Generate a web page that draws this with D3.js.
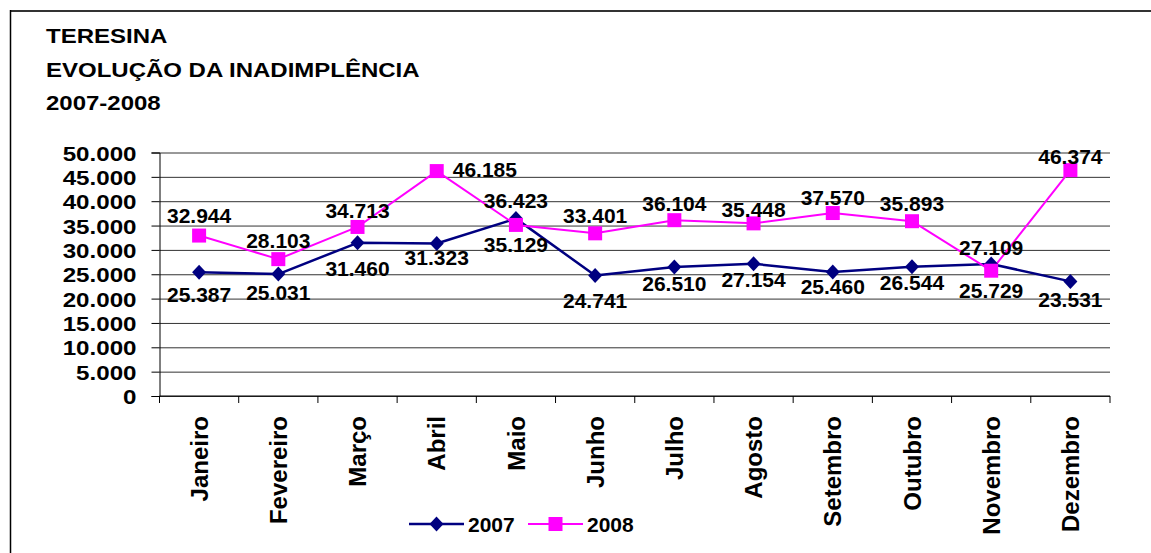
<!DOCTYPE html>
<html>
<head>
<meta charset="utf-8">
<script src="https://cdn.jsdelivr.net/npm/d3@7"></script>
<style>
  html, body { margin: 0; padding: 0; background: #fff; }
  svg { display: block; }
  text { font-family: "Liberation Sans", Arial, sans-serif; font-weight: bold; fill: #000; }
</style>
</head>
<body>
<svg width="1151" height="553"></svg>
<script>
// data
const months = ["Janeiro", "Fevereiro", "Março", "Abril", "Maio", "Junho",
                "Julho", "Agosto", "Setembro", "Outubro", "Novembro", "Dezembro"];
const values2007 = [25387, 25031, 31460, 31323, 36423, 24741, 26510, 27154, 25460, 26544, 27109, 23531];
const values2008 = [32944, 28103, 34713, 46185, 35129, 33401, 36104, 35448, 37570, 35893, 25729, 46374];
const seriesNames = ["2007", "2008"];
const yTicks = [0, 5000, 10000, 15000, 20000, 25000, 30000, 35000, 40000, 45000, 50000];
const titleLines = ["TERESINA", "EVOLUÇÃO DA INADIMPLÊNCIA", "2007-2008"];

// label placement (baseline offset from the marker, px)
const labelDy2007 = [30, 26, 33, 22, -11, 32, 24, 23, 22, 23, -9, 26];
const labelDy2008 = [-13, -11, -9, 6, 27, -10, -9, -6, -8, -10, 27, -6];

const svg = d3.select("svg"),
      margin = {top: 152.5, right: 41, bottom: 157, left: 159.5},
      width = 1151 - margin.left - margin.right,
      height = 553 - margin.top - margin.bottom;

const ptBR = d3.formatLocale({decimal: ",", thousands: ".", grouping: [3], currency: ["", ""]});
const fmt = ptBR.format(",");

// frame
svg.append("line").attr("x1", 10).attr("x2", 1151).attr("y1", 11).attr("y2", 11)
  .attr("stroke", "#333").attr("stroke-width", 2);
svg.append("line").attr("x1", 10.5).attr("x2", 10.5).attr("y1", 10).attr("y2", 553)
  .attr("stroke", "#000").attr("stroke-width", 1.5);

// title
svg.append("g").selectAll("text").data(titleLines).join("text")
  .attr("transform", (d, i) => `translate(46,${43 + i * 33.5}) scale(1.2,1)`)
  .style("font-size", "20px")
  .text(d => d);

const g = svg.append("g").attr("transform", `translate(${margin.left},${margin.top})`);

const x = d3.scaleBand().domain(months).range([0, width]).padding(0);
const y = d3.scaleLinear().domain([0, 50000]).range([height, 0]);

// gridlines
g.append("g")
  .call(d3.axisLeft(y).tickValues(yTicks).tickSize(-width).tickFormat(""))
  .call(a => a.select(".domain").remove())
  .selectAll("line").attr("stroke", "#333").attr("stroke-width", 1);

// y axis
g.append("g")
  .call(d3.axisLeft(y).tickValues(yTicks).tickSize(8).tickPadding(12).tickFormat(fmt))
  .call(a => a.selectAll("line, path").attr("stroke", "#000"))
  .call(a => a.selectAll("text").style("font-size", "21px")
    .attr("transform", "scale(1.15,1)").attr("dy", "0.36em"));

// x axis baseline and ticks at category edges
g.append("line").attr("x1", 0).attr("x2", width).attr("y1", height).attr("y2", height)
  .attr("stroke", "#000");
g.append("g").selectAll("line").data(months.concat([null])).join("line")
  .attr("x1", (d, i) => i * x.step()).attr("x2", (d, i) => i * x.step())
  .attr("y1", height).attr("y2", height + 7)
  .attr("stroke", "#000");

// x labels
g.append("g")
  .attr("transform", `translate(0,${height})`)
  .call(d3.axisBottom(x).tickSize(0).tickPadding(0))
  .call(a => a.select(".domain").remove())
  .call(a => a.selectAll("text")
    .style("font-size", "24px")
    .attr("text-anchor", "end")
    .attr("transform", "translate(0,20) rotate(-90)")
    .attr("x", 0).attr("y", 0).attr("dy", "0.36em"));

const cx = d => x(d) + x.bandwidth() / 2;

const series = [
  {name: seriesNames[0], values: values2007, color: "#000080", width: 2.5, shape: "diamond", dy: labelDy2007},
  {name: seriesNames[1], values: values2008, color: "#FF00FF", width: 2, shape: "square", dy: labelDy2008}
];

const diamond = "M0,-7.5L7,0L0,7.5L-7,0Z";
const square = "M-7,-7H7V7H-7Z";

const line = d3.line().x((d, i) => cx(months[i])).y(d => y(d));

series.forEach(s => {
  g.append("path").datum(s.values)
    .attr("fill", "none").attr("stroke", s.color).attr("stroke-width", s.width)
    .attr("stroke-linejoin", "round")
    .attr("d", line);
});

series.forEach(s => {
  g.append("g").selectAll("path").data(s.values).join("path")
    .attr("transform", (d, i) => `translate(${cx(months[i])},${y(d)})`)
    .attr("d", s.shape === "diamond" ? diamond : square)
    .attr("fill", s.color);
});

series.forEach(s => {
  g.append("g").selectAll("text").data(s.values).join("text")
    .attr("x", (d, i) => s.dy[i] > 0 && s.dy[i] < 15 ? cx(months[i]) + 16 : cx(months[i]))
    .attr("y", (d, i) => y(d) + s.dy[i])
    .attr("text-anchor", (d, i) => s.dy[i] > 0 && s.dy[i] < 15 ? "start" : "middle")
    .style("font-size", "21px")
    .text(d => fmt(d));
});

// legend
const legend = svg.append("g").attr("transform", "translate(409,524)");
const li = legend.selectAll("g").data(series).join("g")
  .attr("transform", (d, i) => `translate(${i * 119},0)`);
li.append("line").attr("x1", 0).attr("x2", 55).attr("y1", 0).attr("y2", 0)
  .attr("stroke", d => d.color).attr("stroke-width", d => d.width);
li.append("path").attr("transform", "translate(27.5,0)")
  .attr("d", d => d.shape === "diamond" ? diamond : square)
  .attr("fill", d => d.color);
li.append("text").attr("x", 59).attr("y", 7.5)
  .style("font-size", "21px")
  .text(d => d.name);
</script>
</body>
</html>
